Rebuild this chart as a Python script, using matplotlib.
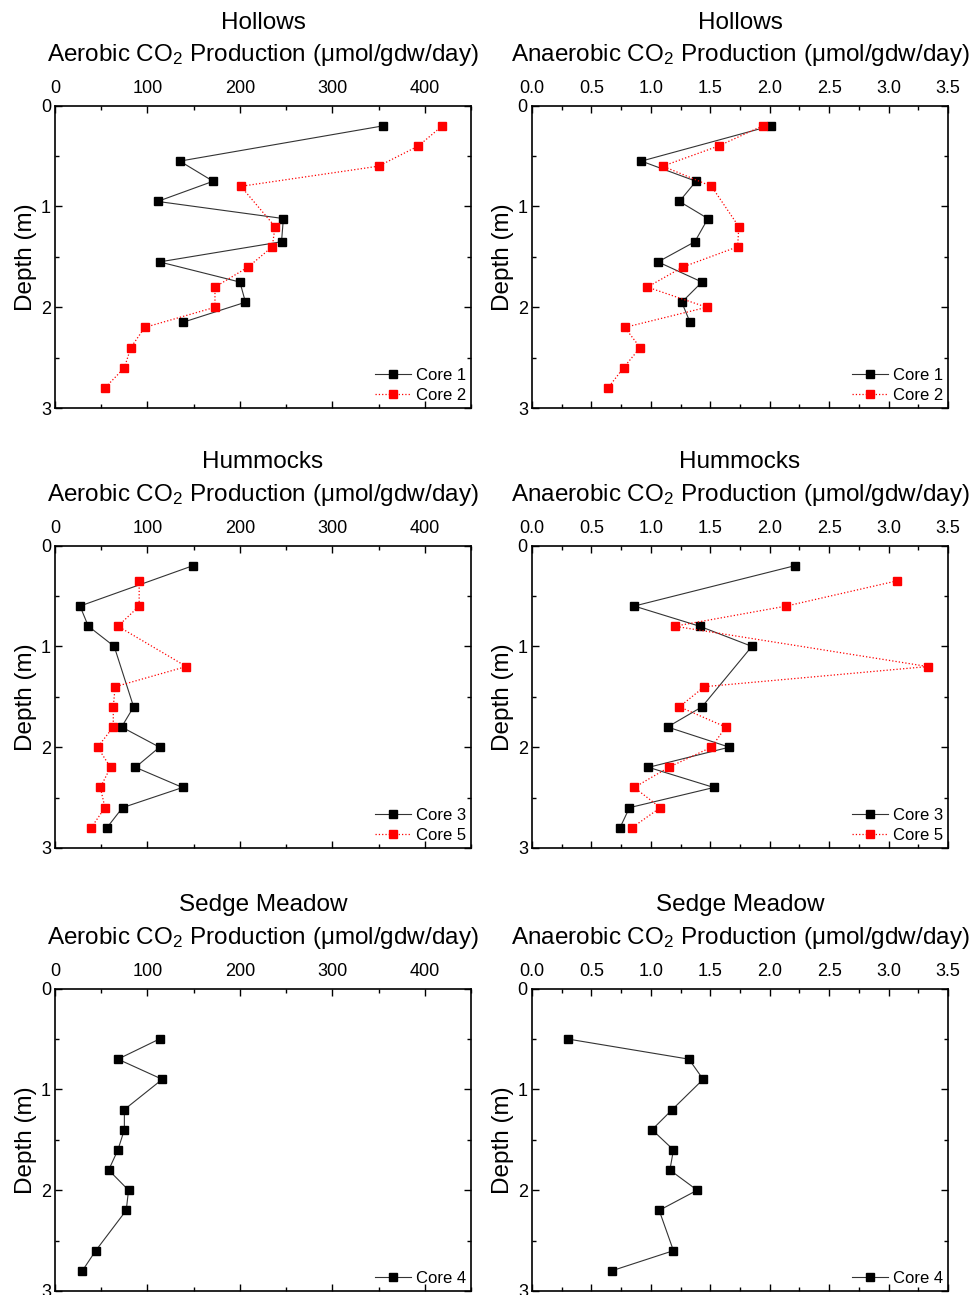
import matplotlib
matplotlib.use("Agg")
import matplotlib.pyplot as plt
from matplotlib.ticker import MultipleLocator

plt.rcParams['font.family'] = ['Liberation Sans', 'DejaVu Sans']
plt.rcParams['mathtext.default'] = 'regular'

# depths (m)
depth_c12 = [0.2, 0.55, 0.75, 0.95, 1.12, 1.35, 1.55, 1.75, 1.95, 2.15]
depth_c2 = [0.2, 0.4, 0.6, 0.8, 1.2, 1.4, 1.6, 1.8, 2.0, 2.2, 2.4, 2.6, 2.8]
depth_c3 = [0.2, 0.6, 0.8, 1.0, 1.6, 1.8, 2.0, 2.2, 2.4, 2.6, 2.8]
depth_c5 = [0.35, 0.6, 0.8, 1.2, 1.4, 1.6, 1.8, 2.0, 2.2, 2.4, 2.6, 2.8]
depth_c4 = [0.5, 0.7, 0.9, 1.2, 1.4, 1.6, 1.8, 2.0, 2.2, 2.6, 2.8]

# aerobic CO2 production (umol/gdw/day)
aer_core1 = [355, 135, 171, 111, 247, 245, 113, 200, 206, 138]
aer_core2 = [419, 393, 350, 201, 238, 235, 209, 173, 173, 97, 82, 75, 54]
aer_core3 = [149, 27, 36, 64, 85, 72, 113, 87, 138, 73, 56]
aer_core5 = [91, 91, 68, 142, 65, 63, 63, 46, 60, 49, 54, 39]
aer_core4 = [113, 68, 116, 75, 75, 68, 58, 79.5, 77, 44, 29.5]

# anaerobic CO2 production (umol/gdw/day)
ana_core1 = [2.01, 0.92, 1.38, 1.24, 1.48, 1.37, 1.06, 1.43, 1.26, 1.33]
ana_core2 = [1.94, 1.57, 1.10, 1.51, 1.74, 1.73, 1.27, 0.97, 1.47, 0.78, 0.91, 0.77, 0.64]
ana_core3 = [2.21, 0.86, 1.41, 1.85, 1.43, 1.14, 1.66, 0.98, 1.53, 0.82, 0.74]
ana_core5 = [3.07, 2.14, 1.20, 3.33, 1.45, 1.24, 1.63, 1.51, 1.15, 0.86, 1.08, 0.84]
ana_core4 = [0.30, 1.32, 1.44, 1.18, 1.01, 1.19, 1.16, 1.39, 1.07, 1.19, 0.67]

titles = ["Hollows", "Hummocks", "Sedge Meadow"]
aer_label = "Aerobic CO$_2$ Production (\u03bcmol/gdw/day)"
ana_label = "Anaerobic CO$_2$ Production (\u03bcmol/gdw/day)"

fig = plt.figure(figsize=(9.76, 12.95), dpi=100)

row_bottoms = [0.6849, 0.3452, 0.0031]
row_h = 0.2335
col_lefts = [0.0564, 0.5451]
col_w = 0.4262


def style_axes(ax, xmax, xmajor, xminor, label, title):
    ax.set_xlim(0, xmax)
    ax.set_ylim(3, 0)
    ax.xaxis.set_major_locator(MultipleLocator(xmajor))
    ax.xaxis.set_minor_locator(MultipleLocator(xminor))
    ax.yaxis.set_major_locator(MultipleLocator(1))
    ax.yaxis.set_minor_locator(MultipleLocator(0.5))
    ax.tick_params(which='both', direction='in', top=True, bottom=True,
                   left=True, right=True, labeltop=True, labelbottom=False,
                   labelsize=13, width=1.0)
    ax.tick_params(which='major', length=5)
    ax.tick_params(axis='x', which='major', pad=6)
    ax.tick_params(axis='y', which='major', pad=3)
    ax.tick_params(which='minor', length=3)
    for s in ax.spines.values():
        s.set_linewidth(1.2)
    ax.xaxis.set_label_position('top')
    ax.set_xlabel(label, fontsize=17.5, labelpad=14)
    ax.set_ylabel("Depth (m)", fontsize=17.5, labelpad=3)
    ax.text(0.5, 1.275, title, transform=ax.transAxes, ha='center',
            va='center', fontsize=17.5)
    ax.legend(loc='lower right', frameon=False, fontsize=12,
              handlelength=2.15, numpoints=1, borderaxespad=0.1,
              borderpad=0.2, labelspacing=0.3, handletextpad=0.3)


def add_core(ax, x, y, name, red=False):
    if red:
        ax.plot(x, y, color='red', ls=':', lw=0.9, marker='s', ms=6,
                mfc='red', mec='red', label=name)
    else:
        ax.plot(x, y, color='#333333', ls='-', lw=0.8, marker='s', ms=6,
                mfc='black', mec='black', label=name)


# Hollows
ax = fig.add_axes([col_lefts[0], row_bottoms[0], col_w, row_h])
add_core(ax, aer_core1, depth_c12, "Core 1")
add_core(ax, aer_core2, depth_c2, "Core 2", red=True)
style_axes(ax, 450, 100, 50, aer_label, titles[0])

ax = fig.add_axes([col_lefts[1], row_bottoms[0], col_w, row_h])
add_core(ax, ana_core1, depth_c12, "Core 1")
add_core(ax, ana_core2, depth_c2, "Core 2", red=True)
style_axes(ax, 3.5, 0.5, 0.25, ana_label, titles[0])
ax.xaxis.set_major_formatter(plt.FormatStrFormatter('%.1f'))

# Hummocks
ax = fig.add_axes([col_lefts[0], row_bottoms[1], col_w, row_h])
add_core(ax, aer_core3, depth_c3, "Core 3")
add_core(ax, aer_core5, depth_c5, "Core 5", red=True)
style_axes(ax, 450, 100, 50, aer_label, titles[1])

ax = fig.add_axes([col_lefts[1], row_bottoms[1], col_w, row_h])
add_core(ax, ana_core3, depth_c3, "Core 3")
add_core(ax, ana_core5, depth_c5, "Core 5", red=True)
style_axes(ax, 3.5, 0.5, 0.25, ana_label, titles[1])
ax.xaxis.set_major_formatter(plt.FormatStrFormatter('%.1f'))

# Sedge Meadow
ax = fig.add_axes([col_lefts[0], row_bottoms[2], col_w, row_h])
add_core(ax, aer_core4, depth_c4, "Core 4")
style_axes(ax, 450, 100, 50, aer_label, titles[2])

ax = fig.add_axes([col_lefts[1], row_bottoms[2], col_w, row_h])
add_core(ax, ana_core4, depth_c4, "Core 4")
style_axes(ax, 3.5, 0.5, 0.25, ana_label, titles[2])
ax.xaxis.set_major_formatter(plt.FormatStrFormatter('%.1f'))

fig.savefig("out.png", dpi=100)
